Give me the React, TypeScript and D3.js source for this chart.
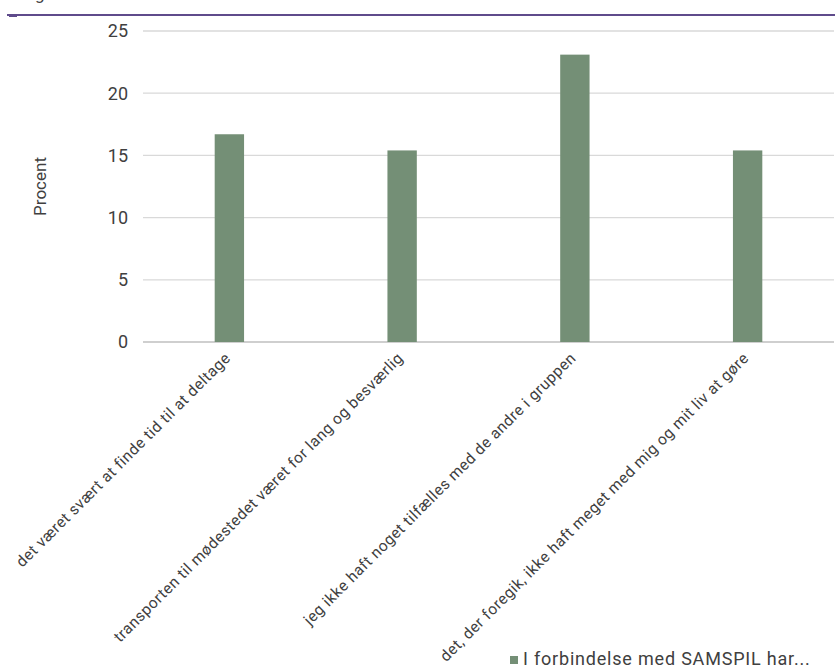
import React from "react";
import * as d3 from "d3";

const categories = [
  "det været svært at finde tid til at deltage",
  "transporten til mødestedet været for lang og besværlig",
  "jeg ikke haft noget tilfælles med de andre i gruppen",
  "det, der foregik, ikke haft meget med mig og mit liv at gøre",
];
const values = [16.7, 15.4, 23.1, 15.4];
const yTicks = [0, 5, 10, 15, 20, 25];
const seriesName = "I forbindelse med SAMSPIL har...";
const yLabel = "Procent";

const W = 835;
const H = 668;
const font = "Roboto, 'Noto Sans', sans-serif";
const textColor = "#404040";
const barColor = "#748f76";

export default function App() {
  const x = d3.scaleBand<string>().domain(categories).range([143, 834]).paddingInner(0.83).paddingOuter(0.415);
  const y = d3.scaleLinear().domain([0, 25]).range([342, 31]);

  return (
    <svg
      width={W}
      height={H}
      style={{ position: "absolute", left: 0, top: 0, background: "#fff" }}
      fontFamily={font}
    >
      <text x={35} y={0} fontSize={17} fill={textColor}>g</text>
      <line x1={7} x2={W} y1={15} y2={15} stroke="#5f4b8b" strokeWidth={2} />
      <rect x={9} y={15} width={8} height={2} fill="#5f4b8b" />
      {yTicks.map((t) => (
        <g key={t}>
          <line
            x1={143}
            x2={834}
            y1={y(t)}
            y2={y(t)}
            stroke={t === 0 ? "#bfbfbf" : "#d9d9d9"}
            strokeWidth={1.3}
          />
          <text
            x={128}
            y={y(t)}
            dy="0.35em"
            textAnchor="end"
            fontSize={18}
            fill={textColor}
          >
            {t}
          </text>
        </g>
      ))}
      <text
        transform={`translate(46, ${(31 + 342) / 2}) rotate(-90)`}
        textAnchor="middle"
        fontSize={17}
        fill={textColor}
      >
        {yLabel}
      </text>
      {categories.map((c, i) => (
        <rect
          key={c}
          x={x(c)}
          y={y(values[i])}
          width={x.bandwidth()}
          height={y(0) - y(values[i])}
          fill={barColor}
        />
      ))}
      {categories.map((c) => {
        const cx = (x(c) ?? 0) + x.bandwidth() / 2;
        return (
          <text
            key={c}
            transform={`translate(${cx + 2}, 359) rotate(-45)`}
            textAnchor="end"
            fontSize={15.5}
            letterSpacing={0.5}
            fill={textColor}
          >
            {c}
          </text>
        );
      })}
      <rect x={510} y={656} width={8} height={8} fill={barColor} />
      <text x={523} y={665} fontSize={18} letterSpacing={0.8} fill={textColor}>
        {seriesName}
      </text>
    </svg>
  );
}
